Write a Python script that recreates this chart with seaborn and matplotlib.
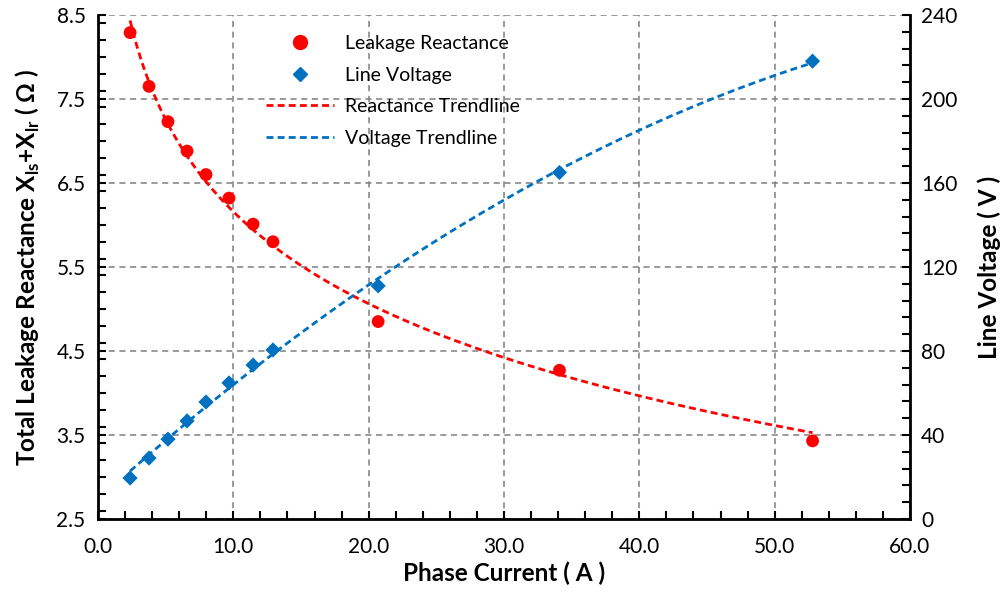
import numpy as np
import pandas as pd
import matplotlib
matplotlib.use("Agg")
import matplotlib.pyplot as plt
from matplotlib.ticker import MultipleLocator, FormatStrFormatter
from matplotlib.lines import Line2D
import seaborn as sns

# ---- data ----
current = [2.37, 3.77, 5.17, 6.58, 7.98, 9.68, 11.46, 12.93, 20.7, 34.1, 52.8]
reactance = [8.29, 7.65, 7.23, 6.88, 6.60, 6.32, 6.01, 5.80, 4.85, 4.27, 3.43]
voltage = [19.5, 29.0, 38.0, 46.7, 55.7, 64.8, 73.3, 80.5, 111.0, 165.0, 218.0]

x_ticks = [0.0, 10.0, 20.0, 30.0, 40.0, 50.0, 60.0]
left_ticks = [2.5, 3.5, 4.5, 5.5, 6.5, 7.5, 8.5]
right_ticks = [0, 40, 80, 120, 160, 200, 240]

sns.set_theme(style="white")
plt.rcParams['font.family'] = ['Lato', 'DejaVu Sans']
plt.rcParams['mathtext.fontset'] = 'custom'
plt.rcParams['mathtext.rm'] = 'Lato'
plt.rcParams['mathtext.bf'] = 'Lato:bold'
plt.rcParams['text.color'] = 'black'
plt.rcParams['axes.labelcolor'] = 'black'

df = pd.DataFrame({"current": current, "reactance": reactance, "voltage": voltage})

# trendlines fitted from the data (logarithmic fit for reactance, 2nd-order polynomial for voltage)
xs = np.linspace(min(current), max(current), 200)
b, a = np.polyfit(np.log(df.current), df.reactance, 1)
react_fit = a + b * np.log(xs)
pv = np.polyfit(df.current, df.voltage, 2)
volt_fit = np.polyval(pv, xs)
trend = pd.DataFrame({"x": xs, "r": react_fit, "v": volt_fit})

fig = plt.figure(figsize=(10, 5.99), dpi=100)
ax = fig.add_axes([0.098, 0.1336, 0.812, 0.8414])
ax2 = ax.twinx()

red = "#FF0000"
blue = "#0070C0"
grid_c = "#7F7F7F"
dash = (0, (2.5, 1.5))

sns.lineplot(data=trend, x="x", y="r", ax=ax, color=red, lw=2, linestyle=dash, zorder=3)
sns.scatterplot(data=df, x="current", y="reactance", ax=ax, color=red, s=85, marker="o",
                edgecolor="none", zorder=4)
sns.lineplot(data=trend, x="x", y="v", ax=ax2, color=blue, lw=2, linestyle=dash, zorder=3)
sns.scatterplot(data=df, x="current", y="voltage", ax=ax2, color=blue, s=60, marker="D",
                edgecolor="none", zorder=4)

ax.set_xlim(0, 60)
ax.set_ylim(2.5, 8.5)
ax2.set_ylim(0, 240)
ax.set_xticks(x_ticks)
ax.set_yticks(left_ticks)
ax2.set_yticks(right_ticks)
ax.xaxis.set_major_formatter(FormatStrFormatter('%.1f'))
ax.yaxis.set_major_formatter(FormatStrFormatter('%.1f'))
ax.xaxis.set_minor_locator(MultipleLocator(2))
ax.yaxis.set_minor_locator(MultipleLocator(0.2))
ax2.yaxis.set_minor_locator(MultipleLocator(8))

ax.grid(True, which="major", color=grid_c, linestyle=(0, (4, 3)), lw=1.1)
ax2.grid(False)

for a_ in (ax, ax2):
    for s in a_.spines.values():
        s.set_visible(False)
ax.spines['left'].set_visible(True)
ax.spines['bottom'].set_visible(True)
ax2.spines['right'].set_visible(True)
for s in (ax.spines['left'], ax.spines['bottom'], ax2.spines['right']):
    s.set_color("black")
    s.set_linewidth(2)

ax.tick_params(axis='both', which='both', direction='in', length=6, width=1.5, color='black',
               labelsize=15, labelcolor='black')
ax.tick_params(axis='y', which='both', left=True, right=False, pad=9)
ax.tick_params(axis='x', which='both', bottom=True, top=False, pad=13)
ax2.tick_params(axis='y', which='both', direction='in', length=6, width=1.5, color='black',
                labelsize=15, labelcolor='black', right=True, left=False, pad=8)

ax.set_xlabel("Phase Current ( A )", fontsize=17.5, fontweight='bold', labelpad=3)
ax.set_ylabel(r"Total Leakage Reactance X$_\mathbf{ls}$+X$_\mathbf{lr}$ ( Ω )",
              fontsize=17.5, fontweight='bold', labelpad=10)
ax2.set_ylabel("Line Voltage ( V )", fontsize=17.5, fontweight='bold', labelpad=14)

handles = [
    Line2D([], [], color=red, marker='o', linestyle='none', markersize=10),
    Line2D([], [], color=blue, marker='D', linestyle='none', markersize=7),
    Line2D([], [], color=red, lw=2, linestyle=dash),
    Line2D([], [], color=blue, lw=2, linestyle=dash),
]
labels = ["Leakage Reactance", "Line Voltage", "Reactance Trendline", "Voltage Trendline"]
leg = ax.legend(handles, labels, loc='upper left', bbox_to_anchor=(0.185, 0.995), frameon=False,
                fontsize=14, handlelength=3.5, labelspacing=0.75, handletextpad=0.6,
                borderpad=0.4)
leg.set_zorder(10)

fig.savefig("out.png", dpi=100)
